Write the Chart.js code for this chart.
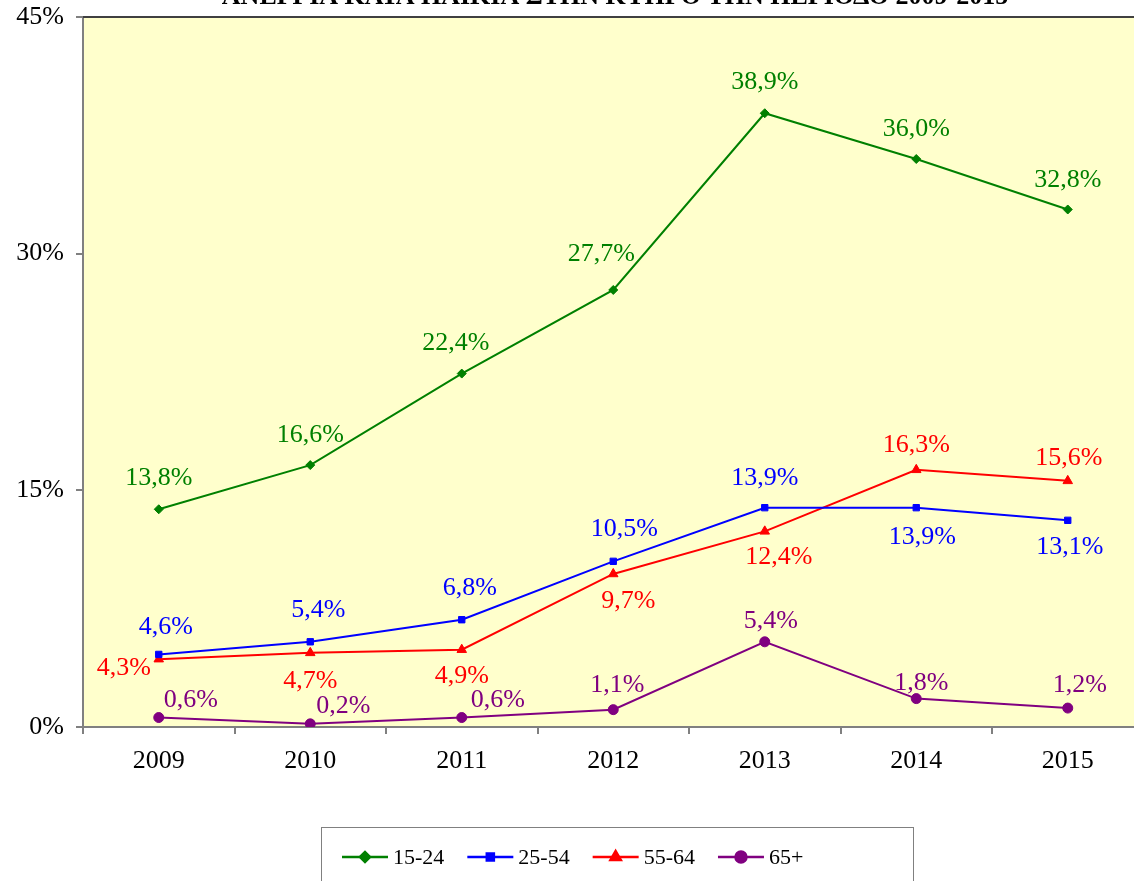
<!DOCTYPE html>
<html>
<head>
<meta charset="utf-8">
<script src="https://cdn.jsdelivr.net/npm/chart.js@4/dist/chart.umd.min.js"></script>
<style>
html,body{margin:0;padding:0;background:#fff;overflow:hidden;width:1134px;height:881px;}
#wrap{position:absolute;left:0;top:0;width:1150px;height:881px;}
</style>
</head>
<body>
<div id="wrap"><canvas id="c" width="1150" height="881"></canvas></div>
<script>
const TITLE = "ΑΝΕΡΓΙΑ ΚΑΤΑ ΗΛΙΚΙΑ ΣΤΗΝ ΚΥΠΡΟ ΤΗΝ ΠΕΡΙΟΔΟ 2009-2015";
const years = ["2009","2010","2011","2012","2013","2014","2015"];
const seriesNames = ["15-24","25-54","55-64","65+"];
const age15_24 = [13.8,16.6,22.4,27.7,38.9,36.0,32.8];
const age25_54 = [4.6,5.4,6.8,10.5,13.9,13.9,13.1];
const age55_64 = [4.3,4.7,4.9,9.7,12.4,16.3,15.6];
const age65plus = [0.6,0.2,0.6,1.1,5.4,1.8,1.2];
const yTicks = [0,15,30,45];

// label placement offsets (pixels) relative to each point
const labelOffsets = [
  [[0,-31],[0,-30],[-6,-30],[-12,-36],[0,-31],[0,-30],[0,-29]],
  [[7,-27],[8,-32],[8,-32],[11,-32],[0,-30],[6,29],[2,27]],
  [[-35,9],[0,28],[0,26],[15,27],[14,26],[0,-25],[1,-23]],
  [[32,-17],[33,-18],[36,-17],[4,-24],[6,-21],[5,-15],[12,-23]]
];

const SERIF = "'Liberation Serif','Times New Roman',serif";
const colors = ["#008000","#0000FF","#FF0000","#800080"];
const styles = ["rectRot","rect","triangle","circle"];
const radii = [4.5,4.5,5.5,5];
const seriesData = [age15_24, age25_54, age55_64, age65plus];

const datasets = seriesData.map((d,i)=>({
  label: seriesNames[i],
  data: d,
  borderColor: colors[i],
  backgroundColor: colors[i],
  pointBackgroundColor: colors[i],
  pointBorderColor: colors[i],
  pointStyle: styles[i],
  pointRadius: radii[i],
  pointBorderWidth: 1,
  borderWidth: 2,
  tension: 0,
  fill: false
}));

const decor = {
  id: 'decor',
  beforeDraw(chart){
    const {ctx, chartArea:a} = chart;
    ctx.save();
    ctx.fillStyle = '#FFFFCC';
    ctx.fillRect(a.left, a.top, a.right-a.left, a.bottom-a.top);
    ctx.restore();
  },
  afterDraw(chart){
    const {ctx, chartArea:a} = chart;
    ctx.save();
    ctx.strokeStyle = '#404040';
    ctx.lineWidth = 2;
    ctx.beginPath(); ctx.moveTo(a.left, a.top); ctx.lineTo(a.right, a.top); ctx.stroke();
    ctx.fillStyle = '#000';
    ctx.font = "bold 26px " + SERIF;
    ctx.textAlign = 'center';
    ctx.textBaseline = 'alphabetic';
    ctx.fillText(TITLE, 615, 4);
    ctx.font = "26px " + SERIF;
    ctx.textBaseline = 'middle';
    chart.data.datasets.forEach((ds, i)=>{
      const meta = chart.getDatasetMeta(i);
      ctx.fillStyle = ds.borderColor;
      meta.data.forEach((pt, j)=>{
        const off = labelOffsets[i][j];
        const txt = ds.data[j].toFixed(1).replace('.',',') + '%';
        ctx.fillText(txt, pt.x + off[0], pt.y + off[1]);
      });
    });
    const boxL = 321, boxR = 913, boxT = 827, boxB = 895;
    ctx.strokeStyle = '#808080';
    ctx.lineWidth = 1;
    ctx.strokeRect(boxL+0.5, boxT+0.5, boxR-boxL, boxB-boxT);
    ctx.font = "22px " + SERIF;
    ctx.textAlign = 'left';
    let x = boxL + 21;
    const y = 857;
    chart.data.datasets.forEach((ds)=>{
      ctx.strokeStyle = ds.borderColor;
      ctx.fillStyle = ds.borderColor;
      ctx.lineWidth = 2.5;
      ctx.beginPath(); ctx.moveTo(x, y); ctx.lineTo(x+46, y); ctx.stroke();
      Chart.helpers.drawPoint(ctx, {pointStyle: ds.pointStyle, radius: ds.pointRadius + 0.5, rotation: 0, borderWidth: 1}, x+23, y);
      ctx.fillStyle = '#000';
      ctx.fillText(ds.label, x+51, y+1);
      x += 51 + ctx.measureText(ds.label).width + 23;
    });
    ctx.restore();
  }
};

new Chart(document.getElementById('c'), {
  type: 'line',
  data: { labels: years, datasets },
  plugins: [decor],
  options: {
    responsive: false,
    animation: false,
    devicePixelRatio: 1,
    layout: { padding: { top: 17, left: 0, right: 0, bottom: 0 } },
    plugins: { legend: { display: false }, title: { display: false }, tooltip: { enabled: false } },
    scales: {
      x: {
        offset: true,
        grid: { display: true, drawOnChartArea: false, drawTicks: true, tickLength: 7, color: '#808080', lineWidth: 2, offset: true },
        border: { display: true, color: '#808080', width: 2 },
        ticks: { color: '#000', font: { family: SERIF, size: 26 }, padding: 12, maxRotation: 0 },
        afterFit(scale){ scale.height = 154; scale.paddingLeft = 0; scale.paddingRight = 0; }
      },
      y: {
        min: 0, max: 45,
        afterBuildTicks(scale){ scale.ticks = yTicks.map(v=>({value:v})); },
        grid: { display: true, drawOnChartArea: false, drawTicks: true, tickLength: 7, color: '#808080', lineWidth: 2 },
        border: { display: true, color: '#808080', width: 2 },
        ticks: { color: '#000', font: { family: SERIF, size: 26 }, padding: 12, callback: v => v + '%' },
        afterFit(scale){ scale.width = 83; scale.paddingTop = 0; scale.paddingBottom = 0; }
      }
    }
  }
});
</script>
</body>
</html>
